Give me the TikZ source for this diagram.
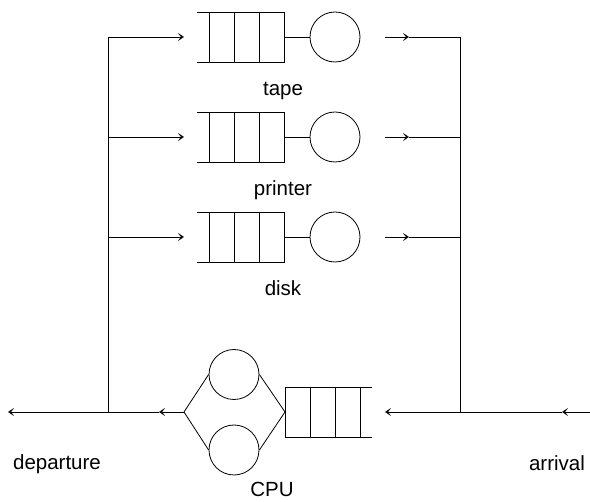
\documentclass[tikz,border=0pt]{standalone}
\usepackage{fontspec}
\setmainfont{Liberation Sans}
\usetikzlibrary{arrows.meta}
\begin{document}
\begin{tikzpicture}[x=1pt,y=-1pt, line width=0.8pt,
  server/.style={draw, circle, minimum size=50pt, inner sep=0pt},
  lbl/.style={font=\fontsize{20.5}{24}\selectfont, inner sep=0pt, anchor=base},
  tip/.style={-{Stealth[open, length=6pt, width=8pt, inset=3pt]}}]
\useasboundingbox (0,0) rectangle (590,502);
% three upper stations
\foreach \y/\i/\t in {37/1/tape,137/2/printer,237/3/disk}{
  \draw (197,\y-25) -- (284,\y-25) -- (284,\y+25) -- (197,\y+25);
  \foreach \x in {209,234,259} \draw (\x,\y-25) -- (\x,\y+25);
  \coordinate (b\i) at (108,\y);
  \coordinate (ql\i) at (184,\y);
  \coordinate (qr\i) at (284,\y);
  \node[server] (s\i) at (335,\y) {};
  \coordinate (o\i) at (385,\y);
  \coordinate (om\i) at (409,\y);
  \coordinate (j\i) at (460,\y);
  \draw[tip] (b\i) -- (ql\i);
  \draw (qr\i) -- (s\i);
  \draw[tip] (o\i) -- (om\i);
  \draw (om\i) -- (j\i);
  \node[lbl] (l\i) at (283,\y+59) {\t};
}
% verticals
\coordinate (dep) at (108,412);
\coordinate (arrj) at (460,412);
\draw (b1) -- (dep);
\draw (j1) -- (arrj);
% CPU queue
\draw (372,387) -- (285,387) -- (285,437) -- (372,437);
\foreach \x in {310,335,360} \draw (\x,387) -- (\x,437);
\coordinate (in) at (590,412);
\coordinate (inm) at (562,412);
\coordinate (cq) at (385,412);
\draw[tip] (in) -- (inm);
\draw[tip] (inm) -- (cq);
% CPU servers
\node[server] (c1) at (234,374.5) {};
\node[server] (c2) at (234,450) {};
\coordinate (dR) at (285,412);
\coordinate (dL) at (184,412);
\draw (dR) -- (c1.east);
\draw (c1.west) -- (dL) -- (c2.west);
\draw (c2.east) -- (dR);
\coordinate (outm) at (159,412);
\coordinate (out) at (8,412);
\draw[tip] (dL) -- (outm);
\draw[tip] (outm) -- (out);
% labels
\node[lbl] (cpu) at (272,497) {CPU};
\node[lbl] (departure) at (57,470) {departure};
\node[lbl] (arrival) at (557,471) {arrival};
\end{tikzpicture}
\end{document}
